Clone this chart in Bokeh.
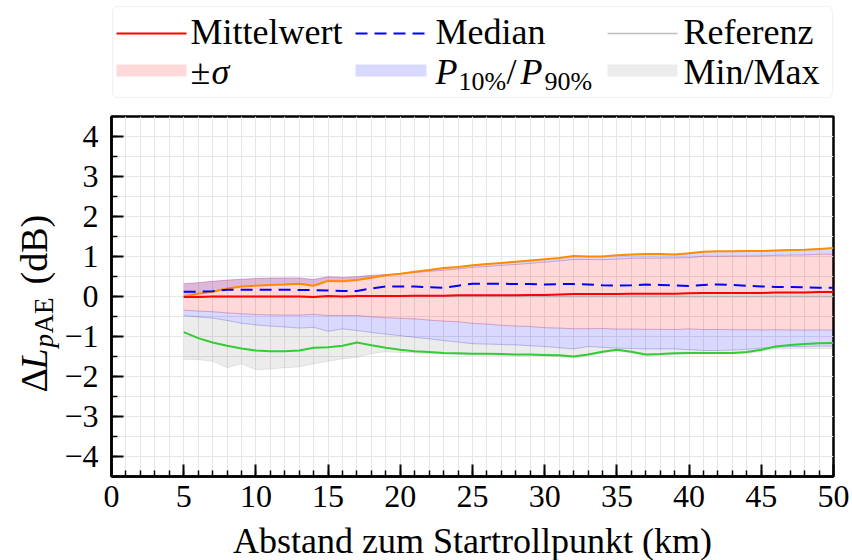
import math

from bokeh.core.properties import value
from bokeh.embed import file_html
from bokeh.layouts import column, row
from bokeh.models import BoxAnnotation, FixedTicker, Range1d
from bokeh.plotting import figure
from bokeh.resources import INLINE

# Distance from start-of-roll point (km)
km = list(range(5, 51))

# Statistics of the level difference (dB) per distance
mean = [-0.01, -0.01, 0.0, 0.0, 0.0, 0.0, 0.0, 0.0, 0.0, -0.01, 0.01, 0.0, 0.01,
        0.01, 0.01, 0.01, 0.02, 0.02, 0.02, 0.03, 0.03, 0.03, 0.03, 0.03, 0.04,
        0.04, 0.05, 0.06, 0.06, 0.06, 0.06, 0.07, 0.07, 0.07, 0.07, 0.08, 0.09,
        0.09, 0.09, 0.09, 0.09, 0.10, 0.10, 0.10, 0.11, 0.11]
std = [0.33, 0.355, 0.38, 0.41, 0.43, 0.45, 0.46, 0.465, 0.465, 0.435, 0.485,
       0.475, 0.485, 0.52, 0.54, 0.555, 0.58, 0.61, 0.635, 0.66, 0.70, 0.72,
       0.75, 0.77, 0.79, 0.82, 0.84, 0.865, 0.865, 0.86, 0.875, 0.885, 0.89,
       0.89, 0.895, 0.89, 0.915, 0.915, 0.92, 0.92, 0.925, 0.93, 0.935, 0.94,
       0.945, 0.95]
median = [0.12, 0.12, 0.13, 0.17, 0.17, 0.17, 0.17, 0.17, 0.16, 0.16, 0.15,
          0.14, 0.14, 0.20, 0.25, 0.25, 0.25, 0.23, 0.22, 0.27, 0.32, 0.32,
          0.32, 0.31, 0.31, 0.30, 0.31, 0.31, 0.30, 0.28, 0.27, 0.28, 0.30,
          0.29, 0.28, 0.26, 0.29, 0.30, 0.29, 0.27, 0.25, 0.24, 0.24, 0.23,
          0.22, 0.22]
p90 = [0.00, 0.07, 0.12, 0.20, 0.25, 0.27, 0.29, 0.30, 0.32, 0.27, 0.39, 0.38,
       0.41, 0.47, 0.53, 0.57, 0.62, 0.66, 0.71, 0.74, 0.78, 0.81, 0.84, 0.87,
       0.90, 0.93, 0.96, 1.01, 1.00, 1.00, 1.03, 1.05, 1.06, 1.06, 1.05, 1.08,
       1.12, 1.13, 1.13, 1.14, 1.14, 1.15, 1.16, 1.17, 1.19, 1.21]
p10 = [-0.48, -0.51, -0.54, -0.60, -0.67, -0.71, -0.74, -0.76, -0.79, -0.77,
       -0.87, -0.81, -0.85, -0.90, -0.94, -0.98, -1.02, -1.06, -1.10, -1.14,
       -1.18, -1.19, -1.20, -1.21, -1.23, -1.25, -1.28, -1.31, -1.25, -1.27,
       -1.29, -1.30, -1.31, -1.31, -1.31, -1.33, -1.35, -1.35, -1.34, -1.32,
       -1.29, -1.27, -1.25, -1.25, -1.24, -1.24]
minimum = [-1.57, -1.58, -1.62, -1.78, -1.68, -1.83, -1.81, -1.78, -1.76, -1.68,
           -1.62, -1.56, -1.52, -1.43, -1.38, -1.40, -1.41, -1.42, -1.44, -1.45,
           -1.46, -1.46, -1.47, -1.48, -1.48, -1.49, -1.50, -1.53, -1.48, -1.41,
           -1.36, -1.41, -1.48, -1.47, -1.45, -1.44, -1.44, -1.44, -1.44, -1.42,
           -1.37, -1.31, -1.30, -1.30, -1.30, -1.30]
lower_trace = [-0.89, -1.04, -1.15, -1.23, -1.30, -1.35, -1.37, -1.37, -1.35,
               -1.28, -1.27, -1.23, -1.15, -1.22, -1.28, -1.33, -1.37, -1.39,
               -1.41, -1.42, -1.43, -1.43, -1.44, -1.45, -1.45, -1.46, -1.47,
               -1.50, -1.45, -1.38, -1.33, -1.38, -1.45, -1.44, -1.42, -1.41,
               -1.41, -1.41, -1.41, -1.39, -1.33, -1.25, -1.21, -1.19, -1.17,
               -1.16]
reference = [0.0] * len(km)

x_major = list(range(0, 51, 5))
x_minor = list(range(0, 51))
y_major = list(range(-4, 5))
y_minor = [k * 0.5 for k in range(-9, 10)]

sig_hi = [m + s for m, s in zip(mean, std)]
sig_lo = [m - s for m, s in zip(mean, std)]

SERIF = "Liberation Serif"
LEFT_W = 60          # strip that carries the y-axis title
FRAME_W, FRAME_H = 722, 360
BASE_SHIFT = 0.36    # em offset between requested and drawn text baseline

# ---------------------------------------------------------------- main axes
p = figure(frame_width=FRAME_W, frame_height=FRAME_H,
           x_range=Range1d(0, 50), y_range=Range1d(-4.5, 4.5),
           toolbar_location=None, output_backend="svg",
           min_border_left=111 - LEFT_W, min_border_right=19,
           min_border_top=16, min_border_bottom=84)
p.background_fill_color = "white"
p.border_fill_color = "white"
p.outline_line_color = "black"
p.outline_line_width = 2.5
p.outline_line_alpha = 1.0

p.xaxis.ticker = FixedTicker(ticks=x_major, minor_ticks=x_minor)
p.yaxis.ticker = FixedTicker(ticks=y_major, minor_ticks=y_minor)
p.yaxis.major_label_overrides = {v: (f"\u2212{abs(v)}" if v < 0 else str(v)) for v in y_major}
p.xgrid.ticker = FixedTicker(ticks=x_minor)
p.ygrid.ticker = FixedTicker(ticks=y_minor)
p.grid.grid_line_color = "#e6e6e6"
p.grid.grid_line_width = 1

for ax in (p.xaxis, p.yaxis):
    ax.axis_line_width = 2.5
    ax.axis_line_color = "black"
    ax.major_tick_in = 12
    ax.major_tick_out = 0
    ax.minor_tick_in = 6
    ax.minor_tick_out = 0
    ax.major_tick_line_width = 2
    ax.minor_tick_line_width = 1.5
    ax.major_tick_line_color = "black"
    ax.minor_tick_line_color = "black"
    ax.major_label_text_font = SERIF
    ax.major_label_text_font_size = "32px"
    ax.major_label_text_color = "black"

p.xaxis.major_label_standoff = 9
p.yaxis.major_label_standoff = 13
p.xaxis.axis_label = "Abstand zum Startrollpunkt (km)"
p.xaxis.axis_label_text_font = SERIF
p.xaxis.axis_label_text_font_size = "36px"
p.xaxis.axis_label_text_font_style = "normal"
p.xaxis.axis_label_text_color = "black"
p.xaxis.axis_label_standoff = 11


def band(y1, y2, color):
    p.varea(x=km, y1=y1, y2=y2, fill_color=color, fill_alpha=0.15)
    for edge in (y1, y2):
        p.line(km, edge, line_color=color, line_alpha=0.15, line_width=1)


# envelope, percentile and sigma bands
band(minimum, p10, "gray")
band(p10, sig_lo, "blue")
band(sig_hi, p90, "blue")
band(sig_lo, sig_hi, "red")

p.line(km, reference, line_color="#b4b4b4", line_width=1.5)
p.line(km, p90, line_color="#ff8c00", line_width=2)
p.line(km, lower_trace, line_color="#32cd32", line_width=2)
p.line(km, mean, line_color="red", line_width=2)
p.line(km, median, line_color="blue", line_width=2, line_dash="12 7")

# ---------------------------------------------------------------- y-axis title strip
ylab = figure(frame_width=LEFT_W, frame_height=FRAME_H,
              x_range=Range1d(0, LEFT_W), y_range=Range1d(0, FRAME_H),
              x_axis_type=None, y_axis_type=None, toolbar_location=None,
              output_backend="svg", min_border_left=0, min_border_right=0,
              min_border_top=116, min_border_bottom=84)
ylab.outline_line_color = None
ylab.background_fill_color = "white"
ylab.border_fill_color = "white"


def ytext(base_x, yp, txt, size, style):
    # rotated text: the baseline runs vertically at base_x
    ylab.text(x=[base_x - BASE_SHIFT * size], y=[yp], text=[txt], angle=math.pi / 2,
              text_font=value(SERIF), text_font_size=f"{size}px",
              text_font_style=style, text_color="black",
              text_align="left", text_baseline="alphabetic")


# ΔL_pAE (dB), read bottom to top
ytext(47, 84, "\u0394", 38, "normal")
ytext(47, 107, "L", 38, "italic")
ytext(53, 129, "p", 27, "italic")
ytext(53, 143, "AE", 27, "normal")
ytext(47, 192, "(dB)", 38, "normal")

# ---------------------------------------------------------------- legend
leg = figure(frame_width=FRAME_W, frame_height=100,
             x_range=Range1d(111, 111 + FRAME_W), y_range=Range1d(100, 0),
             x_axis_type=None, y_axis_type=None, toolbar_location=None,
             output_backend="svg", min_border_left=111 - LEFT_W,
             min_border_right=19, min_border_top=0, min_border_bottom=0)
leg.outline_line_color = None
leg.background_fill_color = "white"
leg.border_fill_color = "white"
leg.add_layout(BoxAnnotation(left=112, right=832, top=6, bottom=97,
                             fill_color="white", fill_alpha=1.0,
                             line_color="#d0d0d0", line_width=1,
                             border_radius=5, level="underlay"))

leg.line([116, 186], [33, 33], line_color="red", line_width=2)
leg.line([355, 426], [33, 33], line_color="blue", line_width=2, line_dash="12 7")
leg.line([607, 677], [33, 33], line_color="#bdbdbd", line_width=1.5)
leg.quad(left=116, right=186, top=64, bottom=76, fill_color="red", fill_alpha=0.15, line_color=None)
leg.quad(left=355, right=426, top=64, bottom=76, fill_color="blue", fill_alpha=0.15, line_color=None)
leg.quad(left=607, right=677, top=64, bottom=76, fill_color="gray", fill_alpha=0.15, line_color=None)


def ltext(xp, base_y, txt, size=36, style="normal"):
    leg.text(x=[xp], y=[base_y - BASE_SHIFT * size], text=[txt], text_font=value(SERIF),
             text_font_size=f"{size}px", text_font_style=style, text_color="black",
             text_align="left", text_baseline="alphabetic")


ltext(190, 44, "Mittelwert")
ltext(435, 44, "Median")
ltext(683, 44, "Referenz")
ltext(190, 84, "\u00b1")
ltext(211, 84, "\u03c3", style="italic")
ltext(435, 84, "P", style="italic")
ltext(458, 90, "10%", size=26)
ltext(506, 84, "/")
ltext(520, 84, "P", style="italic")
ltext(544, 90, "90%", size=26)
ltext(683, 84, "Min/Max")

layout = row(ylab, column(leg, p, spacing=0), spacing=0)
open("out.html", "w").write(file_html(layout, INLINE))
